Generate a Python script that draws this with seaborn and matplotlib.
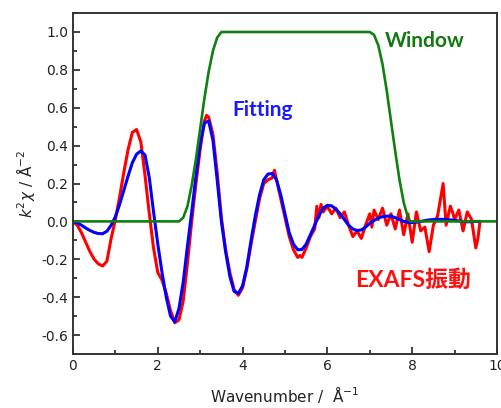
import numpy as np
import matplotlib
matplotlib.use("Agg")
import matplotlib.pyplot as plt
import seaborn as sns
from matplotlib.ticker import MultipleLocator

# ---- data ----
k_fit = [round(0.1 * i, 1) for i in range(97)]
chi_fit = [0.000, -0.008, -0.020, -0.035, -0.048, -0.058, -0.064, -0.065, -0.052, -0.020,
           0.025, 0.090, 0.165, 0.240, 0.310, 0.355, 0.372, 0.350, 0.230, 0.050,
           -0.120, -0.270, -0.400, -0.500, -0.530, -0.460, -0.320, -0.130, 0.050, 0.240,
           0.410, 0.520, 0.530, 0.430, 0.220, 0.000, -0.160, -0.290, -0.370, -0.380,
           -0.340, -0.240, -0.100, 0.030, 0.140, 0.220, 0.250, 0.253, 0.220, 0.140,
           0.040, -0.060, -0.120, -0.150, -0.148, -0.120, -0.070, -0.020, 0.030, 0.070,
           0.085, 0.082, 0.065, 0.040, 0.010, -0.020, -0.040, -0.048, -0.045, -0.030,
           -0.010, 0.005, 0.018, 0.025, 0.028, 0.027, 0.020, 0.010, 0.000, -0.005,
           -0.006, -0.004, 0.000, 0.004, 0.008, 0.010, 0.011, 0.011, 0.010, 0.008,
           0.005, 0.003, 0.000, -0.002, -0.002, 0.000, 0.000]

k_exp = [0.0, 0.1, 0.2, 0.3, 0.4, 0.5, 0.6, 0.7, 0.8, 0.9,
         1.0, 1.1, 1.2, 1.3, 1.4, 1.5, 1.6, 1.7, 1.8, 1.9,
         2.0, 2.1, 2.2, 2.3, 2.4, 2.5, 2.6, 2.7, 2.8, 2.9,
         3.0, 3.1, 3.15, 3.2, 3.3, 3.4, 3.5, 3.6, 3.7, 3.8, 3.9,
         4.0, 4.1, 4.2, 4.3, 4.4, 4.5, 4.6, 4.7, 4.75, 4.8, 4.9,
         5.0, 5.1, 5.2, 5.3, 5.35, 5.4, 5.5, 5.6, 5.7, 5.75, 5.8, 5.85, 5.9,
         6.0, 6.1, 6.2, 6.3, 6.4, 6.5, 6.6, 6.7, 6.8, 6.9,
         7.0, 7.05, 7.1, 7.2, 7.3, 7.4, 7.5, 7.6, 7.7, 7.8, 7.9,
         8.0, 8.1, 8.2, 8.3, 8.4, 8.5, 8.6, 8.73, 8.8, 8.9, 8.95,
         9.0, 9.1, 9.2, 9.3, 9.4, 9.5, 9.55, 9.6]
chi_exp = [0.00, -0.02, -0.06, -0.11, -0.16, -0.20, -0.225, -0.235, -0.21, -0.09,
           0.01, 0.13, 0.26, 0.38, 0.47, 0.485, 0.42, 0.24, 0.04, -0.14,
           -0.27, -0.31, -0.38, -0.47, -0.535, -0.52, -0.42, -0.22, 0.00, 0.20,
           0.38, 0.53, 0.56, 0.55, 0.46, 0.26, 0.02, -0.15, -0.27, -0.36, -0.39,
           -0.35, -0.25, -0.12, 0.00, 0.12, 0.20, 0.22, 0.23, 0.27, 0.22, 0.12,
           0.02, -0.08, -0.15, -0.19, -0.18, -0.19, -0.14, -0.08, -0.04, 0.08, 0.02, 0.09, 0.05,
           0.08, 0.04, 0.07, 0.02, 0.05, -0.02, -0.08, -0.05, -0.09, -0.02,
           0.04, -0.03, 0.06, 0.01, 0.07, -0.02, 0.04, -0.04, 0.06, -0.07, 0.04,
           -0.11, 0.05, -0.05, -0.03, -0.16, -0.02, 0.03, 0.20, -0.02, 0.08, 0.05,
           0.01, 0.06, -0.05, 0.05, 0.01, -0.14, -0.09, 0.00]

k_win = [0.0, 2.5, 2.6, 2.7, 2.8, 2.9, 3.0, 3.1, 3.2, 3.3, 3.4, 3.5,
         7.0, 7.1, 7.2, 7.3, 7.4, 7.5, 7.6, 7.7, 7.8, 7.9, 7.95, 10.0]
win = [0.0, 0.0, 0.02, 0.08, 0.19, 0.33, 0.49, 0.65, 0.79, 0.90, 0.97, 1.0,
       1.0, 0.985, 0.93, 0.83, 0.69, 0.53, 0.37, 0.22, 0.10, 0.02, 0.0, 0.0]

# ---- plot ----
sns.set_style("ticks")
plt.rcParams['font.family'] = ['DejaVu Sans', 'Noto Sans CJK JP']

fig = plt.figure(figsize=(5.02, 4.08), dpi=100)
ax = fig.add_axes([0.1454, 0.1324, 0.8446, 0.8356])

sns.lineplot(x=k_exp, y=chi_exp, color="#ff0000", lw=2.2, ax=ax, sort=False)
sns.lineplot(x=k_fit, y=chi_fit, color="#0000ff", lw=2.2, ax=ax, sort=False)
sns.lineplot(x=k_win, y=win, color="#108010", lw=1.9, ax=ax, sort=False)

ax.set_xlim(0, 10)
ax.set_ylim(-0.7, 1.1)
ax.xaxis.set_major_locator(MultipleLocator(2))
ax.xaxis.set_minor_locator(MultipleLocator(1))
ax.yaxis.set_minor_locator(MultipleLocator(0.1))
ax.set_yticks([-0.6, -0.4, -0.2, 0.0, 0.2, 0.4, 0.6, 0.8, 1.0])
ax.set_yticklabels(["-0.6", "-0.4", "-0.2", "0.0", "0.2", "0.4", "0.6", "0.8", "1.0"])
ax.tick_params(which="both", direction="in", top=False, right=False,
               labelsize=10, colors="#222222", width=1.2)
ax.tick_params(which="major", length=5)
ax.tick_params(which="minor", length=3)
for s in ax.spines.values():
    s.set_visible(True)
    s.set_linewidth(1.4)
    s.set_color("#333333")

ax.set_xlabel("Wavenumber /  Å$^{-1}$", fontsize=11, color="#222222", labelpad=8)
ax.set_ylabel("$k^2\\chi$ / Å$^{-2}$", fontsize=11, color="#222222", labelpad=3)

lab_font = ['Lato', 'Noto Sans CJK JP']
ax.text(7.36, 0.95, "Window", color="#107a10", fontsize=15, fontweight="bold",
        family=lab_font, va="center", ha="left")
ax.text(3.75, 0.59, "Fitting", color="#1a1aff", fontsize=15, fontweight="bold",
        family=lab_font, va="center", ha="left")
ax.text(6.65, -0.31, "EXAFS振動", color="#ff1010", fontsize=16.5, fontweight="bold",
        family=lab_font, va="center", ha="left")

fig.savefig("out.png", dpi=100)
